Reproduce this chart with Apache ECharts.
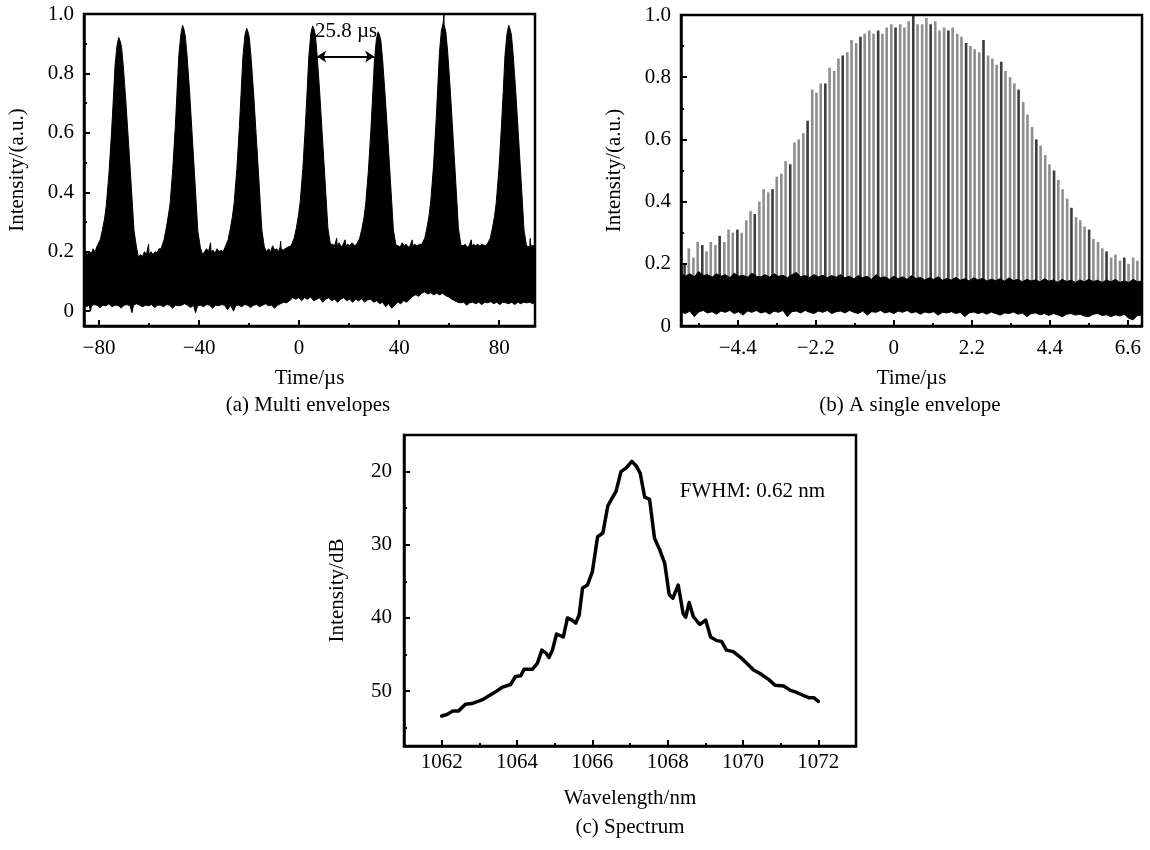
<!DOCTYPE html>
<html>
<head>
<meta charset="utf-8">
<script src="https://cdn.jsdelivr.net/npm/echarts@6/dist/echarts.min.js"></script>
<style>
  html, body { margin: 0; padding: 0; background: #fff; }
  #chart { width: 1150px; height: 850px; }
</style>
</head>
<body>
<div id="chart"></div>
<script>
// ---------- (a) Multi envelopes: upper / lower edge of the noisy trace, [time µs, intensity]
const envUpperA = [
  [-86.0,0.195],[-85.2,0.2],[-84.6,0.19],[-83.8,0.2],[-83.0,0.195],[-82.4,0.21],[-81.6,0.2],
  [-80.7,0.22],[-79.5,0.24],[-78.6,0.275],[-77.8,0.31],[-77.1,0.355],[-76.0,0.465],[-75.0,0.6],[-74.3,0.71],[-73.6,0.825],[-72.8,0.895],[-72.1,0.921],[-71.6,0.91],[-71.0,0.89],[-70.3,0.825],[-69.3,0.71],[-68.3,0.58],[-67.1,0.42],[-66.0,0.27],[-65.0,0.215],
  [-64.2,0.18],[-63.5,0.19],[-62.6,0.185],[-61.8,0.2],[-61.0,0.19],[-60.4,0.19],[-60.2,0.225],[-60.0,0.19],[-59.2,0.2],[-58.4,0.19],[-57.6,0.2],[-56.8,0.195],[-56.0,0.21],
  [-55.2,0.21],[-54.0,0.24],[-53.1,0.28],[-52.3,0.32],[-51.6,0.36],[-50.5,0.48],[-49.5,0.62],[-48.8,0.74],[-48.1,0.86],[-47.3,0.93],[-46.6,0.962],[-46.1,0.95],[-45.5,0.925],[-44.8,0.86],[-43.8,0.74],[-42.8,0.6],[-41.6,0.43],[-40.5,0.27],[-39.5,0.215],
  [-38.6,0.19],[-37.8,0.2],[-37.0,0.21],[-36.2,0.2],[-35.6,0.2],[-35.4,0.23],[-35.2,0.2],[-34.4,0.205],[-33.6,0.195],[-32.8,0.21],[-32.0,0.2],[-31.2,0.205],[-30.4,0.2],
  [-29.6,0.215],[-28.4,0.24],[-27.5,0.278],[-26.7,0.316],[-26.0,0.362],[-24.9,0.477],[-23.9,0.618],[-23.2,0.733],[-22.5,0.853],[-21.7,0.926],[-21.0,0.952],[-20.5,0.942],[-19.9,0.92],[-19.2,0.853],[-18.2,0.733],[-17.2,0.597],[-16.0,0.43],[-14.9,0.273],[-13.9,0.216],
  [-13.0,0.2],[-12.2,0.21],[-11.4,0.2],[-10.6,0.22],[-9.8,0.205],[-9.0,0.21],[-8.2,0.2],[-7.6,0.215],[-7.4,0.235],[-7.2,0.21],[-6.4,0.205],[-5.6,0.21],[-4.6,0.215],
  [-3.2,0.22],[-2.0,0.245],[-1.1,0.28],[-0.3,0.32],[0.4,0.365],[1.5,0.48],[2.5,0.625],[3.2,0.74],[3.9,0.86],[4.7,0.935],[5.4,0.96],[5.9,0.95],[6.5,0.93],[7.2,0.86],[8.2,0.74],[9.2,0.6],[10.4,0.435],[11.5,0.28],[12.5,0.225],
  [13.4,0.225],[14.2,0.22],[14.8,0.22],[15.0,0.245],[15.2,0.22],[16.0,0.23],[16.8,0.215],[17.6,0.225],[18.2,0.22],[18.4,0.24],[18.6,0.22],[19.4,0.225],[20.2,0.22],[21.2,0.23],[22.2,0.22],
  [23.0,0.225],[24.2,0.245],[25.1,0.277],[25.9,0.313],[26.6,0.359],[27.7,0.473],[28.7,0.612],[29.4,0.725],[30.1,0.843],[30.9,0.915],[31.6,0.94],[32.1,0.93],[32.7,0.909],[33.4,0.843],[34.4,0.725],[35.4,0.591],[36.6,0.426],[37.7,0.272],[38.7,0.222],
  [39.6,0.22],[40.4,0.215],[41.2,0.23],[42.0,0.22],[42.8,0.225],[43.6,0.215],[44.4,0.22],[45.0,0.22],[45.2,0.24],[45.4,0.22],[46.2,0.225],[47.2,0.22],[48.2,0.225],
  [49.0,0.225],[50.2,0.245],[51.1,0.28],[51.9,0.319],[52.6,0.367],[53.7,0.485],[54.7,0.63],[55.4,0.748],[56.1,0.871],[56.9,0.946],[57.6,0.97],[57.85,0.968],[57.9,1.0],[57.95,0.965],[58.1,0.96],[58.7,0.937],[59.4,0.871],[60.4,0.748],[61.4,0.608],[62.6,0.437],[63.7,0.277],[64.7,0.222],
  [65.6,0.22],[66.4,0.225],[67.2,0.215],[68.0,0.22],[68.6,0.22],[68.8,0.24],[69.0,0.22],[69.8,0.225],[70.6,0.22],[71.4,0.225],[72.2,0.22],[73.2,0.225],[74.2,0.22],
  [75.2,0.225],[76.4,0.245],[77.3,0.28],[78.1,0.318],[78.8,0.364],[79.9,0.481],[80.9,0.623],[81.6,0.739],[82.3,0.86],[83.1,0.934],[83.8,0.962],[84.3,0.95],[84.9,0.928],[85.6,0.86],[86.6,0.739],[87.6,0.601],[88.8,0.432],[89.9,0.274],[90.9,0.22],
  [91.6,0.215],[92.2,0.215],[92.4,0.245],[92.6,0.22],[93.4,0.22],[94.3,0.22]
];
const envLowerA = [
  [-86,0.02],[-85,0.015],[-84,0.02],[-83.4,0.0],[-83,0.018],[-82,0.022],[-80.8,0.02],[-79.6,0.012],[-78.4,0.02],[-77.2,0.018],
  [-76,0.025],[-74.8,0.015],[-73.6,0.02],[-72.4,0.02],[-71.2,0.01],[-70,0.02],[-68.8,0.022],[-67.6,0.018],[-66.8,-0.005],[-66.2,0.02],
  [-65,0.025],[-63.8,0.02],[-62.6,0.015],[-61.4,0.02],[-60.2,0.018],[-59,0.022],[-57.8,0.012],[-56.6,0.02],[-55.4,0.02],[-54.2,0.015],
  [-53,0.022],[-51.8,0.02],[-50.6,0.01],[-49.4,0.02],[-48.2,0.018],[-47,0.02],[-45.8,0.025],[-44.6,0.02],[-43.4,0.012],[-42.2,0.02],
  [-41.4,-0.005],[-40.6,0.018],[-39.4,0.02],[-38.2,0.015],[-37,0.022],[-35.8,0.02],[-34.6,0.01],[-33.4,0.02],[-32.2,0.018],[-31,0.022],
  [-29.8,0.02],[-28.6,0.005],[-27.4,0.02],[-26.2,0.0],[-25.4,0.018],[-24.2,0.02],[-23,0.015],[-21.8,0.022],[-20.6,0.02],[-19.4,0.012],
  [-18.2,0.02],[-17,0.022],[-15.8,0.015],[-14.6,0.02],[-13.4,0.025],[-12.2,0.018],[-11,0.02],[-9.8,0.01],[-8.6,0.02],[-7.4,0.025],
  [-6.2,0.03],[-5,0.028],[-3.8,0.035],[-2.6,0.045],[-1.4,0.04],[-0.2,0.045],[1,0.035],[2.2,0.045],[3.4,0.04],[4.6,0.048],
  [5.8,0.035],[7,0.04],[8.2,0.045],[9.4,0.03],[10.6,0.04],[11.8,0.045],[13,0.035],[14.2,0.04],[15.4,0.03],[16.6,0.04],
  [17.8,0.045],[19,0.035],[20.2,0.04],[21.4,0.03],[22.6,0.04],[23.8,0.035],[25,0.042],[26.2,0.03],[27.4,0.038],[28.6,0.04],
  [29.8,0.03],[31,0.035],[32.2,0.025],[33.4,0.03],[34.6,0.015],[35.8,0.025],[37,0.01],[38.2,0.02],[39.4,0.03],[40.6,0.025],
  [41.8,0.035],[43,0.03],[44.2,0.04],[45.4,0.05],[46.6,0.055],[47.8,0.05],[49,0.06],[50.2,0.065],[51.4,0.058],[52.6,0.062],
  [53.8,0.055],[55,0.06],[56.2,0.055],[57.4,0.06],[58.6,0.052],[59.8,0.048],[61,0.04],[62.2,0.035],[63.4,0.03],[64.6,0.028],
  [65.8,0.03],[67,0.02],[68.2,0.028],[69.4,0.03],[70.6,0.025],[71.8,0.03],[73,0.022],[74.2,0.03],[75.4,0.028],[76.6,0.032],
  [77.8,0.025],[79,0.03],[80.2,0.022],[81.4,0.03],[82.6,0.028],[83.8,0.025],[85,0.03],[86.2,0.022],[87.4,0.03],[88.6,0.025],
  [89.8,0.03],[91,0.028],[92.2,0.03],[93.4,0.025],[94.3,0.03]
];
const periodArrowA = [[7.2, 0.857], [30.0, 0.857]];
const periodLabelA = [18.8, 0.94];
const periodTextA = '25.8 µs';

// ---------- (b) A single envelope: pulse spikes [time µs, peak], noise band edges
const spikesB = [
  [-5.90,0.20],[-5.78,0.25],[-5.65,0.22],[-5.53,0.27],[-5.40,0.26],[-5.28,0.24],[-5.16,0.27],[-5.03,0.26],[-4.91,0.29],[-4.78,0.27],
  [-4.66,0.31],[-4.54,0.30],[-4.41,0.31],[-4.29,0.30],[-4.16,0.34],[-4.04,0.37],[-3.92,0.36],[-3.79,0.40],[-3.67,0.44],[-3.54,0.43],
  [-3.42,0.44],[-3.30,0.48],[-3.17,0.49],[-3.05,0.53],[-2.92,0.52],[-2.80,0.59],[-2.68,0.60],[-2.55,0.62],[-2.43,0.66],[-2.30,0.76],
  [-2.18,0.75],[-2.06,0.78],[-1.93,0.78],[-1.81,0.83],[-1.68,0.82],[-1.56,0.86],[-1.44,0.87],[-1.31,0.88],[-1.19,0.92],[-1.06,0.91],
  [-0.94,0.93],[-0.82,0.94],[-0.69,0.95],[-0.57,0.94],[-0.44,0.95],[-0.32,0.94],[-0.20,0.96],[-0.07,0.97],[0.05,0.96],[0.18,0.97],
  [0.30,0.96],[0.42,0.98],[0.55,1.00],[0.67,0.97],[0.80,0.97],[0.92,0.99],[1.04,0.97],[1.17,0.98],[1.29,0.95],[1.42,0.96],
  [1.54,0.95],[1.66,0.96],[1.79,0.94],[1.91,0.93],[2.04,0.91],[2.16,0.90],[2.28,0.89],[2.41,0.88],[2.53,0.92],[2.66,0.87],
  [2.78,0.86],[2.90,0.84],[3.03,0.85],[3.15,0.82],[3.28,0.80],[3.40,0.78],[3.52,0.76],[3.65,0.72],[3.77,0.68],[3.90,0.64],
  [4.02,0.60],[4.14,0.58],[4.27,0.55],[4.39,0.52],[4.52,0.50],[4.64,0.47],[4.76,0.44],[4.89,0.41],[5.01,0.38],[5.14,0.35],
  [5.26,0.34],[5.38,0.32],[5.51,0.31],[5.63,0.28],[5.76,0.27],[5.88,0.25],[6.00,0.24],[6.13,0.22],[6.25,0.23],[6.38,0.21],
  [6.50,0.22],[6.62,0.20],[6.75,0.22],[6.87,0.21]
];
const bandUpperB = [
  [-6.0,0.17],[-5.875,0.16],[-5.75,0.168],[-5.625,0.158],[-5.5,0.175],[-5.375,0.162],[-5.25,0.165],[-5.125,0.157],[-5.0,0.168],[-4.875,0.16],
  [-4.75,0.165],[-4.625,0.155],[-4.5,0.17],[-4.375,0.16],[-4.25,0.163],[-4.125,0.157],[-4.0,0.17],[-3.875,0.16],[-3.75,0.158],[-3.625,0.165],
  [-3.5,0.157],[-3.375,0.168],[-3.25,0.16],[-3.125,0.163],[-3.0,0.155],[-2.875,0.165],[-2.75,0.172],[-2.625,0.158],[-2.5,0.162],[-2.375,0.156],
  [-2.25,0.165],[-2.125,0.158],[-2.0,0.163],[-1.875,0.155],[-1.75,0.162],[-1.625,0.157],[-1.5,0.165],[-1.375,0.155],[-1.25,0.16],[-1.125,0.152],
  [-1.0,0.162],[-0.875,0.155],[-0.75,0.16],[-0.625,0.15],[-0.5,0.165],[-0.375,0.155],[-0.25,0.158],[-0.125,0.15],[0.0,0.16],[0.125,0.152],
  [0.25,0.158],[0.375,0.15],[0.5,0.162],[0.625,0.153],[0.75,0.156],[0.875,0.148],[1.0,0.155],[1.125,0.15],[1.25,0.158],[1.375,0.147],
  [1.5,0.153],[1.625,0.148],[1.75,0.156],[1.875,0.147],[2.0,0.152],[2.125,0.145],[2.25,0.155],[2.375,0.148],[2.5,0.153],[2.625,0.145],
  [2.75,0.15],[2.875,0.146],[3.0,0.152],[3.125,0.144],[3.25,0.155],[3.375,0.146],[3.5,0.15],[3.625,0.142],[3.75,0.15],[3.875,0.145],
  [4.0,0.148],[4.125,0.142],[4.25,0.152],[4.375,0.144],[4.5,0.148],[4.625,0.14],[4.75,0.15],[4.875,0.143],[5.0,0.147],[5.125,0.14],
  [5.25,0.148],[5.375,0.142],[5.5,0.15],[5.625,0.143],[5.75,0.147],[5.875,0.14],[6.0,0.148],[6.125,0.142],[6.25,0.15],[6.375,0.14],
  [6.5,0.145],[6.625,0.14],[6.75,0.15],[6.875,0.142],[7.0,0.145]
];
const bandLowerB = [
  [-6.0,0.045],[-5.875,0.04],[-5.75,0.048],[-5.625,0.03],[-5.5,0.045],[-5.375,0.05],[-5.25,0.042],[-5.125,0.046],[-5.0,0.038],[-4.875,0.048],
  [-4.75,0.044],[-4.625,0.05],[-4.5,0.04],[-4.375,0.046],[-4.25,0.035],[-4.125,0.048],[-4.0,0.044],[-3.875,0.05],[-3.75,0.042],[-3.625,0.046],
  [-3.5,0.038],[-3.375,0.048],[-3.25,0.044],[-3.125,0.05],[-3.0,0.03],[-2.875,0.046],[-2.75,0.048],[-2.625,0.042],[-2.5,0.05],[-2.375,0.044],
  [-2.25,0.04],[-2.125,0.048],[-2.0,0.044],[-1.875,0.05],[-1.75,0.04],[-1.625,0.046],[-1.5,0.048],[-1.375,0.042],[-1.25,0.05],[-1.125,0.044],
  [-1.0,0.04],[-0.875,0.048],[-0.75,0.035],[-0.625,0.046],[-0.5,0.044],[-0.375,0.05],[-0.25,0.042],[-0.125,0.046],[0.0,0.04],[0.125,0.048],
  [0.25,0.044],[0.375,0.05],[0.5,0.042],[0.625,0.046],[0.75,0.038],[0.875,0.045],[1.0,0.042],[1.125,0.046],[1.25,0.035],[1.375,0.044],
  [1.5,0.042],[1.625,0.046],[1.75,0.04],[1.875,0.044],[2.0,0.03],[2.125,0.042],[2.25,0.045],[2.375,0.04],[2.5,0.044],[2.625,0.038],
  [2.75,0.045],[2.875,0.04],[3.0,0.035],[3.125,0.042],[3.25,0.04],[3.375,0.045],[3.5,0.038],[3.625,0.042],[3.75,0.03],[3.875,0.04],
  [4.0,0.042],[4.125,0.036],[4.25,0.04],[4.375,0.034],[4.5,0.04],[4.625,0.036],[4.75,0.03],[4.875,0.038],[5.0,0.04],[5.125,0.035],
  [5.25,0.038],[5.375,0.032],[5.5,0.03],[5.625,0.038],[5.75,0.04],[5.875,0.034],[6.0,0.036],[6.125,0.03],[6.25,0.036],[6.375,0.032],
  [6.5,0.038],[6.625,0.025],[6.75,0.02],[6.875,0.034],[7.0,0.035]
];

// ---------- (c) Spectrum [wavelength nm, dB]
const spectrumC = [
  [1062.0,53.4],[1062.14,53.2],[1062.3,52.7],[1062.45,52.7],[1062.63,51.8],[1062.8,51.7],[1063.07,51.2],[1063.3,50.5],[1063.43,50.1],[1063.6,49.5],
  [1063.83,49.1],[1063.96,48.0],[1064.1,47.9],[1064.19,47.0],[1064.41,47.0],[1064.54,46.2],[1064.66,44.4],[1064.77,44.8],[1064.85,45.4],[1064.94,44.4],
  [1065.05,42.2],[1065.14,42.4],[1065.23,42.6],[1065.34,40.0],[1065.46,40.3],[1065.56,40.7],[1065.65,39.6],[1065.74,35.9],[1065.87,35.5],[1066.0,33.7],
  [1066.14,28.9],[1066.28,28.4],[1066.41,24.7],[1066.54,23.5],[1066.63,22.7],[1066.76,20.0],[1066.9,19.5],[1067.05,18.6],[1067.16,19.2],[1067.27,20.2],
  [1067.39,23.5],[1067.52,23.8],[1067.65,29.1],[1067.79,30.7],[1067.92,32.5],[1068.04,36.8],[1068.14,37.3],[1068.28,35.5],[1068.41,39.4],[1068.48,39.9],
  [1068.57,37.9],[1068.68,39.8],[1068.85,40.9],[1069.01,40.3],[1069.14,42.6],[1069.3,43.1],[1069.43,43.2],[1069.56,44.4],[1069.74,44.6],[1069.96,45.5],
  [1070.1,46.2],[1070.28,47.1],[1070.45,47.6],[1070.68,48.4],[1070.85,49.2],[1071.08,49.3],[1071.26,49.9],[1071.39,50.1],[1071.56,50.5],[1071.74,50.9],
  [1071.88,50.9],[1072.0,51.4]
];
const fwhmLabelC = [1068.32, 22.7];
const fwhmTextC = 'FWHM: 0.62 nm';

// ---------- ticks
const ticksAx = [-80, -40, 0, 40, 80];
const minorAx = [-60, -20, 20, 60];
const ticksAy = [0, 0.2, 0.4, 0.6, 0.8, 1.0];
const minorAy = [0.1, 0.3, 0.5, 0.7, 0.9];
const ticksBx = [-4.4, -2.2, 0, 2.2, 4.4, 6.6];
const minorBx = [-5.5, -3.3, -1.1, 1.1, 3.3, 5.5];
const ticksBy = [0, 0.2, 0.4, 0.6, 0.8, 1.0];
const minorBy = [0.1, 0.3, 0.5, 0.7, 0.9];
const ticksCx = [1062, 1064, 1066, 1068, 1070, 1072];
const minorCx = [1063, 1065, 1067, 1069, 1071];
const ticksCy = [20, 30, 40, 50];
const minorCy = [25, 35, 45, 55];

const FONT = 'Liberation Serif';
const FS = 21;
const FRAME = 2.5;

function fmt(v, decimals) {
  if (v === 0) return '0';
  const s = Math.abs(v).toFixed(decimals);
  return (v < 0 ? '\u2212' : '') + s;
}

// main axis (labels + long ticks) and an overlaid axis carrying the short minor ticks
function axisPair(o) {
  const base = {
    type: 'value', gridIndex: o.grid, min: o.min, max: o.max,
    inverse: !!o.inverse, position: o.dim === 'x' ? 'bottom' : 'left',
    z: 5, splitLine: { show: false }
  };
  const main = Object.assign({}, base, {
    axisLine: { show: true, onZero: false, lineStyle: { color: '#000', width: FRAME } },
    axisTick: { show: true, inside: true, length: 6, customValues: o.major, lineStyle: { color: '#000', width: 2 } },
    axisLabel: {
      show: true, customValues: o.major, margin: o.labelMargin,
      formatter: v => fmt(v, o.decimals), color: '#000', fontSize: FS, fontFamily: FONT
    },
    name: o.name, nameLocation: 'middle', nameGap: o.nameGap,
    nameTextStyle: { color: '#000', fontSize: FS, fontFamily: FONT }
  });
  if (o.dim === 'y') main.nameRotate = 90;
  const minor = Object.assign({}, base, {
    axisLine: { show: false, onZero: false },
    axisTick: { show: true, inside: true, length: 3, customValues: o.minor, lineStyle: { color: '#000', width: 2 } },
    axisLabel: { show: false }
  });
  return [main, minor];
}

const xAxes = [].concat(
  axisPair({ dim: 'x', grid: 0, min: -86, max: 94.3, major: ticksAx, minor: minorAx, decimals: 0, name: 'Time/µs', nameGap: 42, labelMargin: 12 }),
  axisPair({ dim: 'x', grid: 1, min: -6, max: 7, major: ticksBx, minor: minorBx, decimals: 1, name: 'Time/µs', nameGap: 42, labelMargin: 12 }),
  axisPair({ dim: 'x', grid: 2, min: 1061, max: 1073, major: ticksCx, minor: minorCx, decimals: 0, name: 'Wavelength/nm', nameGap: 42, labelMargin: 6 })
);
const yAxes = [].concat(
  axisPair({ dim: 'y', grid: 0, min: -0.05, max: 1.0, major: ticksAy, minor: minorAy, decimals: 1, name: 'Intensity/(a.u.)', nameGap: 56, labelMargin: 10 }),
  axisPair({ dim: 'y', grid: 1, min: 0, max: 1.0, major: ticksBy, minor: minorBy, decimals: 1, name: 'Intensity/(a.u.)', nameGap: 56, labelMargin: 10 }),
  axisPair({ dim: 'y', grid: 2, min: 15, max: 57.5, inverse: true, major: ticksCy, minor: minorCy, decimals: 0, name: 'Intensity/dB', nameGap: 56, labelMargin: 12 })
);

const gridBase = { show: true, borderColor: '#000', borderWidth: FRAME, backgroundColor: 'transparent', z: 5, containLabel: false, outerBoundsMode: 'none' };

const chart = echarts.init(document.getElementById('chart'), null, { renderer: 'canvas' });

chart.setOption({
  animation: false,
  backgroundColor: '#fff',
  textStyle: { fontFamily: FONT, color: '#000' },
  grid: [
    Object.assign({ left: 84, top: 14, width: 451, height: 312 }, gridBase),
    Object.assign({ left: 681, top: 15, width: 461, height: 311 }, gridBase),
    Object.assign({ left: 404, top: 435, width: 452, height: 311 }, gridBase)
  ],
  xAxis: xAxes,
  yAxis: yAxes,
  graphic: [
    { type: 'text', x: 308, y: 405, style: { text: '(a) Multi envelopes', font: FS + 'px ' + FONT, fill: '#000', align: 'center', verticalAlign: 'middle', textAlign: 'center', textVerticalAlign: 'middle' } },
    { type: 'text', x: 910, y: 405, style: { text: '(b) A single envelope', font: FS + 'px ' + FONT, fill: '#000', align: 'center', verticalAlign: 'middle', textAlign: 'center', textVerticalAlign: 'middle' } },
    { type: 'text', x: 630, y: 827, style: { text: '(c) Spectrum', font: FS + 'px ' + FONT, fill: '#000', align: 'center', verticalAlign: 'middle', textAlign: 'center', textVerticalAlign: 'middle' } }
  ],
  series: [
    // (a) black noise trace between the two edges
    {
      type: 'line', xAxisIndex: 0, yAxisIndex: 0, data: envUpperA, symbol: 'none', z: 2,
      lineStyle: { color: '#000', width: 1 },
      areaStyle: { color: '#000', opacity: 1, origin: 'start' }
    },
    {
      type: 'line', xAxisIndex: 0, yAxisIndex: 0, data: envLowerA, symbol: 'none', z: 3,
      lineStyle: { color: '#000', width: 1 },
      areaStyle: { color: '#fff', opacity: 1, origin: 'start' },
      markLine: {
        silent: true, symbol: ['arrow', 'arrow'], symbolSize: [9, 9],
        lineStyle: { color: '#000', width: 2, type: 'solid' },
        label: { show: false },
        data: [[{ coord: periodArrowA[0] }, { coord: periodArrowA[1] }]]
      },
      markPoint: {
        silent: true, symbol: 'circle', symbolSize: 0,
        label: { show: true, position: 'inside', formatter: periodTextA, color: '#000', fontSize: FS, fontFamily: FONT },
        data: [{ coord: periodLabelA }]
      }
    },
    // (b) pulse spikes, then the noise band on top
    {
      type: 'bar', xAxisIndex: 2, yAxisIndex: 2, data: spikesB, barWidth: 2.6, z: 1,
      itemStyle: { color: p => (p.dataIndex % 4 === 0 ? '#3c3c3c' : '#8e8e8e') }
    },
    {
      type: 'line', xAxisIndex: 2, yAxisIndex: 2, data: bandUpperB, symbol: 'none', z: 2,
      lineStyle: { color: '#000', width: 1 },
      areaStyle: { color: '#000', opacity: 1, origin: 'start' }
    },
    {
      type: 'line', xAxisIndex: 2, yAxisIndex: 2, data: bandLowerB, symbol: 'none', z: 3,
      lineStyle: { color: '#000', width: 1 },
      areaStyle: { color: '#fff', opacity: 1, origin: 'start' }
    },
    // (c) spectrum
    {
      type: 'line', xAxisIndex: 4, yAxisIndex: 4, data: spectrumC, symbol: 'none', z: 2,
      lineStyle: { color: '#000', width: 3.5, join: 'round', cap: 'round' },
      markPoint: {
        silent: true, symbol: 'circle', symbolSize: 0,
        label: { show: true, position: 'right', distance: 0, formatter: fwhmTextC, color: '#000', fontSize: FS, fontFamily: FONT },
        data: [{ coord: fwhmLabelC }]
      }
    }
  ]
});
</script>
</body>
</html>
